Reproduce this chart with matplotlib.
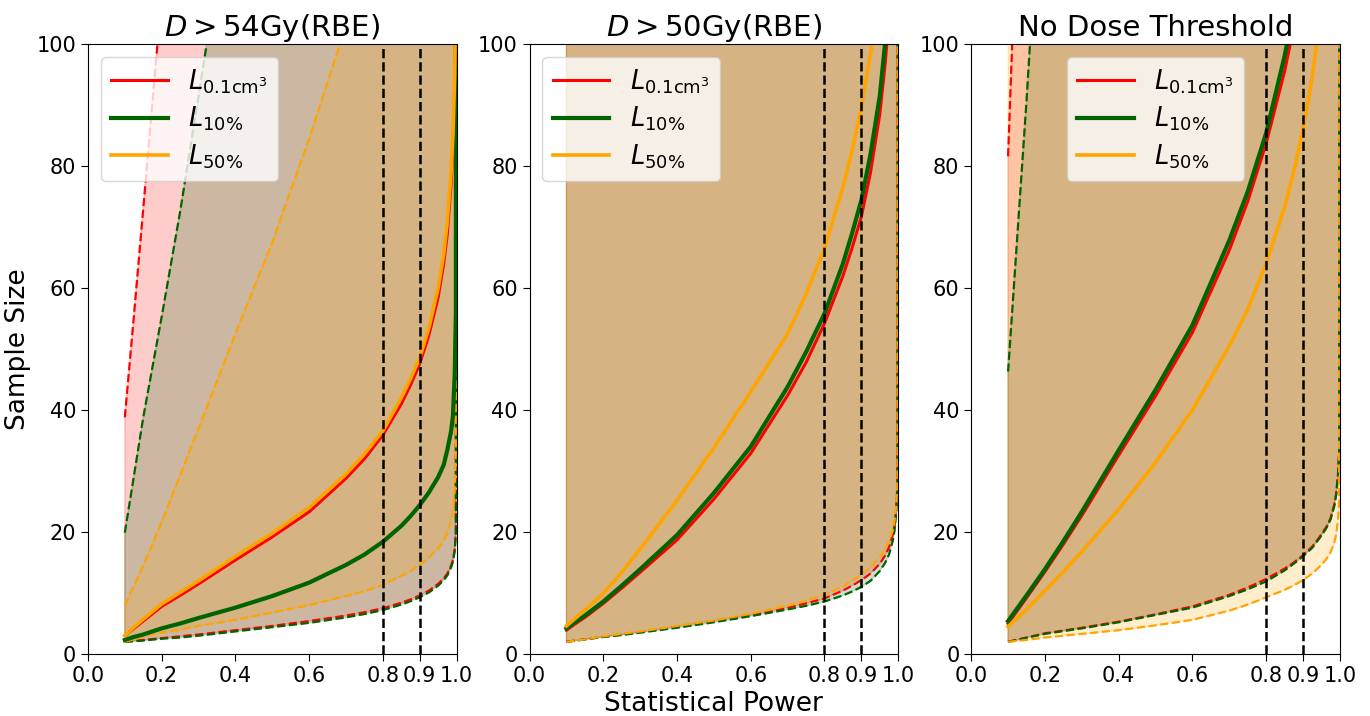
import matplotlib
matplotlib.use("Agg")
import matplotlib.pyplot as plt

# statistical power grid (x values)
power = [0.1, 0.125, 0.15, 0.2, 0.25, 0.3, 0.4, 0.5, 0.6, 0.7, 0.75, 0.8,
         0.85, 0.875, 0.9, 0.925, 0.95, 0.965, 0.975, 0.985, 0.99, 0.995, 0.998, 1.0]

# --- D > 54 Gy(RBE) ---
d54_vol_mid = [3.0, 4.2, 5.4, 7.8, 9.6, 11.5, 15.4, 19.2, 23.3, 28.8, 32.0, 35.9,
               41.0, 44.1, 47.6, 52.3, 58.5, 64, 69, 77, 83, 93, 106, 400]
d54_vol_lo = [2.0, 2.15, 2.3, 2.6, 2.9, 3.2, 3.9, 4.6, 5.4, 6.3, 6.85, 7.5,
              8.4, 8.95, 9.6, 10.4, 11.5, 12.4, 13.2, 14.5, 15.4, 17.2, 20, 400]
d54_vol_hi = [38.8, 55.7, 73, 108, 140, 175, 250, 330, 420, 530, 600, 680,
              780, 845, 920, 1000, 1150, 1250, 1350, 1550, 1700, 2000, 2400, 5000]
d54_10_mid = [2.3, 2.8, 3.2, 4.2, 5.0, 5.9, 7.6, 9.5, 11.7, 14.6, 16.3, 18.4,
              21.0, 22.6, 24.4, 26.5, 29.0, 31, 33.5, 36.5, 39, 46, 56, 400]
d54_10_lo = [2.0, 2.1, 2.2, 2.5, 2.7, 3.0, 3.7, 4.4, 5.1, 6.0, 6.55, 7.2,
             8.1, 8.65, 9.3, 10.1, 11.2, 12.1, 12.9, 14.2, 15.1, 16.9, 19.7, 400]
d54_10_hi = [19.9, 29.3, 38.8, 55.3, 72.5, 91.5, 130, 170, 215, 270, 305, 345,
             395, 425, 460, 500, 570, 620, 670, 750, 810, 920, 1050, 5000]
d54_50_mid = [3.0, 4.4, 5.7, 8.2, 10.1, 12.0, 16.0, 19.8, 24.0, 29.5, 32.8, 36.6,
              42, 45.1, 48.6, 53.5, 60, 65.5, 71, 79, 85, 95, 108, 400]
d54_50_lo = [2.0, 2.4, 2.8, 3.5, 4.0, 4.6, 5.6, 6.8, 8.0, 9.5, 10.3, 11.3,
             12.8, 13.6, 14.6, 15.8, 17.3, 18.6, 19.8, 21.8, 23.5, 27, 33, 400]
d54_50_hi = [8.0, 11.2, 14.5, 21.7, 29.3, 37.0, 52.5, 67.5, 84.5, 103, 115, 128,
             143, 152, 163, 173, 188, 198, 208, 228, 243, 268, 318, 5000]

# --- D > 50 Gy(RBE) ---
d50_vol_mid = [3.9, 5.0, 6.0, 8.3, 10.8, 13.4, 18.7, 25.4, 32.9, 42.4, 47.8, 54.2,
               62.0, 66.6, 71.7, 79, 88.5, 97, 104.5, 116, 125, 140, 160, 400]
d50_vol_lo = [2.0, 2.2, 2.4, 2.8, 3.2, 3.6, 4.5, 5.4, 6.4, 7.6, 8.3, 9.1,
              10.4, 11.2, 12.1, 13.2, 14.8, 16.2, 17.5, 19.5, 21.0, 24, 28, 400]
d50_vol_hi = [160, 200, 240, 320, 400, 480, 650, 820, 1000, 1250, 1400, 1550,
              1750, 1870, 2000, 2100, 2400, 2550, 2700, 3000, 3300, 3700, 4200, 8000]
d50_10_mid = [4.2, 5.3, 6.3, 8.6, 11.2, 13.9, 19.5, 26.4, 34.0, 43.8, 49.5, 55.8,
              64.0, 69.0, 74.4, 82, 91.5, 100.5, 108, 120, 129, 145, 165, 400]
d50_10_lo = [2.0, 2.2, 2.4, 2.8, 3.1, 3.5, 4.3, 5.2, 6.2, 7.3, 7.9, 8.6,
             9.6, 10.25, 11.0, 12.0, 13.6, 15.0, 16.3, 18.5, 20.2, 23.5, 28, 400]
d50_10_hi = [150, 190, 225, 300, 375, 450, 610, 780, 950, 1200, 1350, 1500,
             1700, 1820, 1950, 2050, 2350, 2500, 2650, 2950, 3250, 3650, 4100, 8000]
d50_50_mid = [4.6, 5.9, 7.2, 9.9, 13.4, 17.2, 25.2, 33.8, 43.0, 52.5, 59.0, 66.5,
              76.5, 82.6, 89.5, 98.5, 110, 120, 130, 145, 156, 175, 198, 400]
d50_50_lo = [2.0, 2.2, 2.4, 2.9, 3.3, 3.7, 4.6, 5.5, 6.6, 7.9, 8.7, 9.7,
             11.1, 12.0, 13.0, 14.2, 15.8, 17.2, 18.4, 20.3, 21.8, 24.5, 28.5, 400]
d50_50_hi = [140, 175, 210, 280, 350, 420, 570, 730, 900, 1120, 1250, 1400,
             1600, 1720, 1850, 1950, 2250, 2400, 2550, 2850, 3150, 3550, 4000, 8000]

# --- No dose threshold ---
nd_vol_mid = [5.0, 7.1, 9.2, 13.5, 18.0, 22.7, 32.6, 42.3, 52.7, 66.2, 74.2, 83.7,
              95.5, 102.8, 111, 122, 137, 150, 162, 180, 194, 218, 247, 500]
nd_vol_lo = [2.0, 2.35, 2.7, 3.4, 3.85, 4.3, 5.3, 6.5, 7.8, 9.7, 10.9, 12.3,
             14.0, 15.0, 16.2, 17.6, 19.6, 21.0, 22.3, 24.5, 26.3, 29.5, 33, 300]
nd_vol_hi = [81.6, 123, 165, 250, 335, 420, 600, 780, 980, 1230, 1400, 1550,
             1750, 1870, 2000, 2100, 2400, 2550, 2700, 3000, 3300, 3700, 4200, 8000]
nd_10_mid = [5.4, 7.5, 9.6, 13.9, 18.5, 23.3, 33.4, 43.3, 53.9, 67.8, 75.8, 85.4,
             98.0, 105.6, 114, 125, 140, 153, 165, 183, 197, 221, 250, 500]
nd_10_lo = [2.0, 2.3, 2.65, 3.3, 3.75, 4.2, 5.2, 6.4, 7.6, 9.5, 10.6, 11.9,
            13.7, 14.8, 16.0, 17.4, 19.4, 20.8, 22.1, 24.3, 26.1, 29.3, 33, 300]
nd_10_hi = [46.3, 68.5, 90.7, 140, 185, 230, 330, 430, 540, 680, 770, 860,
            980, 1050, 1130, 1200, 1350, 1450, 1550, 1700, 1830, 2050, 2350, 8000]
nd_50_mid = [4.5, 5.9, 7.3, 10.4, 13.5, 16.8, 23.7, 31.4, 40.0, 50.5, 56.5, 64.0,
             73.2, 79.1, 86.0, 94.5, 106, 116, 125, 139, 150, 168, 190, 500]
nd_50_lo = [2.0, 2.15, 2.3, 2.7, 3.0, 3.3, 3.9, 4.7, 5.6, 7.1, 8.1, 9.3,
            10.5, 11.25, 12.1, 13.2, 14.6, 15.7, 16.7, 18.3, 19.6, 22, 25, 300]
nd_50_hi = [150, 190, 230, 310, 390, 470, 640, 810, 990, 1240, 1400, 1560,
            1760, 1880, 2020, 2120, 2420, 2570, 2720, 3020, 3320, 3720, 4220, 8000]

titles = [r"$D > 54$Gy(RBE)", r"$D > 50$Gy(RBE)", "No Dose Threshold"]
labels = [r"$L_{0.1\mathrm{cm}^3}$", r"$L_{10\%}$", r"$L_{50\%}$"]
colors = ["red", "darkgreen", "orange"]
widths = [2.2, 3.0, 2.6]
marked_power = [0.8, 0.9]

panels = [
    [(d54_vol_mid, d54_vol_lo, d54_vol_hi), (d54_10_mid, d54_10_lo, d54_10_hi),
     (d54_50_mid, d54_50_lo, d54_50_hi)],
    [(d50_vol_mid, d50_vol_lo, d50_vol_hi), (d50_10_mid, d50_10_lo, d50_10_hi),
     (d50_50_mid, d50_50_lo, d50_50_hi)],
    [(nd_vol_mid, nd_vol_lo, nd_vol_hi), (nd_10_mid, nd_10_lo, nd_10_hi),
     (nd_50_mid, nd_50_lo, nd_50_hi)],
]

fig, axes = plt.subplots(1, 3, figsize=(13.7, 7.16), dpi=100)
fig.subplots_adjust(left=0.0642, right=0.978, bottom=0.0866, top=0.9385, wspace=0.198)

for k, ax in enumerate(axes):
    # confidence bands (dashed bounds)
    for (mid, lo, hi), c in zip(panels[k], colors):
        ax.fill_between(power, lo, hi, color=c, alpha=0.2)
        ax.plot(power, lo, color=c, ls="--", lw=1.6)
        ax.plot(power, hi, color=c, ls="--", lw=1.6)
    # central estimates
    for (mid, lo, hi), c, lab, w in zip(panels[k], colors, labels, widths):
        ax.plot(power, mid, color=c, lw=w, label=lab)
    for p in marked_power:
        ax.axvline(p, color="black", ls="--", lw=1.8)

    ax.set_xlim(0, 1.0)
    ax.set_ylim(0, 100)
    ax.set_xticks([0.0, 0.2, 0.4, 0.6, 0.8, 0.9, 1.0])
    ax.set_xticklabels(["0.0", "0.2", "0.4", "0.6", "0.8", "0.9", "1.0"])
    ax.set_yticks([0, 20, 40, 60, 80, 100])
    ax.tick_params(labelsize=15, length=5)
    ax.set_title(titles[k], fontsize=21)
    loc = "upper center" if k == 2 else "upper left"
    ax.legend(loc=loc, fontsize=18.5, handlelength=2.2, labelspacing=0.35)

axes[0].set_ylabel("Sample Size", fontsize=19)
axes[1].set_xlabel("Statistical Power", fontsize=19)

fig.savefig("out.png", dpi=100)
